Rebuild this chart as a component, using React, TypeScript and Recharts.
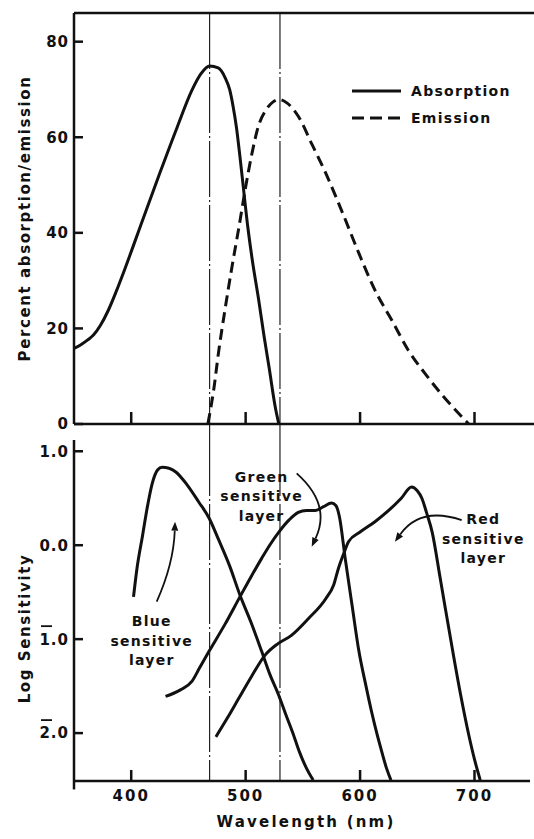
import { LineChart, Line, XAxis, YAxis, ReferenceLine, ReferenceDot, Legend } from 'recharts'

const FONT = '"DejaVu Sans", "Liberation Sans", sans-serif'
const INK = '#111'

// upper panel: percent absorption / emission vs wavelength (nm)
const absorptionWl = [350, 356, 362, 367, 373, 380, 387, 395, 410, 425, 440, 453, 461, 468.5, 476, 482, 486, 489, 492, 495, 498, 502, 506, 511.5, 516, 520.5, 526, 529]
const absorptionPct = [15.8, 16.6, 17.6, 18.6, 20.6, 23.8, 27.8, 32.8, 42.7, 52.5, 62, 69.8, 73.3, 74.9, 74.5, 72.5, 70, 66.5, 62, 56, 49.5, 41, 34, 25.8, 18.5, 11.8, 3.4, 0]
const emissionWl = [467, 472, 476.5, 482, 488, 494, 500, 505, 511, 518, 524, 529, 536, 546, 558, 570, 585, 599, 613, 628, 642, 657, 672, 685, 695]
const emissionPct = [0, 7, 15.3, 24, 32.8, 41, 49.6, 56, 62.2, 65.8, 67.4, 67.9, 67.2, 64.4, 58.5, 52.5, 44, 35.7, 28, 21.6, 15.5, 10.5, 6, 2.5, 0]

// lower panel: log sensitivity of the three layers
const blueWl = [402, 405, 410, 414, 418, 423, 427, 433, 439, 449, 459, 468, 476, 486, 495, 505, 514, 521, 529, 535, 541, 547, 553, 559]
const blueLog = [-0.55, -0.25, 0.11, 0.4, 0.64, 0.8, 0.83, 0.82, 0.78, 0.64, 0.46, 0.29, 0.07, -0.22, -0.53, -0.83, -1.13, -1.37, -1.6, -1.8, -1.99, -2.2, -2.37, -2.5]
const greenWl = [430, 443, 453, 460, 468, 482, 495, 505, 514, 521, 529, 538, 546, 553, 561, 568, 575, 579, 582, 587, 593, 599, 605, 610, 615, 619, 623, 627]
const greenLog = [-1.61, -1.54, -1.45, -1.3, -1.13, -0.84, -0.55, -0.33, -0.14, 0, 0.14, 0.27, 0.35, 0.37, 0.37, 0.41, 0.45, 0.42, 0.3, -0.14, -0.64, -1.13, -1.49, -1.77, -2.02, -2.2, -2.37, -2.5]
const redWl = [474, 484, 494, 505, 517, 528, 540, 555, 570, 577, 581, 586, 590, 600, 613, 625, 636, 645, 650, 654, 658, 663, 670, 681, 688, 695, 700, 705]
const redLog = [-2.04, -1.84, -1.63, -1.4, -1.17, -1.05, -0.96, -0.78, -0.57, -0.42, -0.25, -0.08, 0.04, 0.14, 0.25, 0.37, 0.5, 0.62, 0.58, 0.5, 0.35, 0.14, -0.35, -1.13, -1.6, -2.02, -2.28, -2.5]

const markerWl = [468.5, 530]
const wlTicks = [400, 500, 600, 700]
const pctTicks = [0, 20, 40, 60, 80]
const logTicks = [1, 0, -1, -2]

const legendNames = ['Absorption', 'Emission']
const legendDash = [undefined, '12 6']

const layerNames = ['Blue', 'Green', 'Red']
const labelWl = [418, 514, 707.7]
const labelLog = [-0.81, 0.73, 0.276]
const arrowFrom = [[422.3, -0.6], [544.6, 0.765], [688.8, 0.268]]
const arrowTo = [[438.3, 0.25], [557.7, -0.016], [630.5, 0.037]]
const arrowBend = [4, -14, 13]

const zip = (xs: number[], ys: number[]) => xs.map((w, i) => ({ w, v: ys[i] }))
const absorption = zip(absorptionWl, absorptionPct)
const emission = zip(emissionWl, emissionPct)
const blue = zip(blueWl, blueLog)
const green = zip(greenWl, greenLog)
const red = zip(redWl, redLog)

const axisLine = { stroke: INK, strokeWidth: 2.5 }
const textStyle = { fontFamily: FONT, fontWeight: 'bold' as const, fill: INK }

// y ticks point into the plot; log values below zero get bar notation
const LeftTick = (plain: boolean) => (p: any) => {
  const ax = p.x + 5
  const v = p.payload.value as number
  const neg = !plain && v < 0
  const txt = plain ? String(v) : Math.abs(v).toFixed(1)
  return (
    <g>
      <line x1={ax} y1={p.y} x2={ax + 9} y2={p.y} stroke={INK} strokeWidth={2.5} />
      <text x={p.x} y={p.y} dy="0.36em" textAnchor="end" fontSize={15} letterSpacing={1} {...textStyle}>{txt}</text>
      {neg && <line x1={p.x - 28} y1={p.y - 13} x2={p.x - 17} y2={p.y - 13} stroke={INK} strokeWidth={1.8} />}
    </g>
  )
}

const BottomTick = (withLabel: boolean, len: number) => (p: any) => (
  <g>
    <line x1={p.x} y1={p.y} x2={p.x} y2={p.y - len} stroke={INK} strokeWidth={2.5} />
    {withLabel && (
      <text x={p.x} y={p.y + 20} textAnchor="middle" fontSize={15} letterSpacing={2} {...textStyle}>{p.payload.value}</text>
    )}
  </g>
)

const TopTick = (p: any) => <line x1={p.x} y1={p.y} x2={p.x} y2={p.y + 13} stroke={INK} strokeWidth={2.5} />

const AxisTitle = (text: string, dx: number, dy: number, rotate: boolean, spacing: number) => (p: any) => {
  const vb = p.viewBox
  const x = rotate ? vb.x + dx : vb.x + vb.width / 2 + dx
  const y = rotate ? vb.y + vb.height / 2 + dy : vb.y + dy
  return (
    <text x={x} y={y} textAnchor="middle" dominantBaseline="central" fontSize={15} letterSpacing={spacing}
      transform={rotate ? `rotate(-90, ${x}, ${y})` : undefined} {...textStyle}>
      {text}
    </text>
  )
}

const arrowShape = (bend: number) => (p: any) => {
  const { x1, y1, x2, y2 } = p
  const dx = x2 - x1
  const dy = y2 - y1
  const len = Math.hypot(dx, dy) || 1
  const cx = (x1 + x2) / 2 - (dy / len) * bend * 2
  const cy = (y1 + y2) / 2 + (dx / len) * bend * 2
  const tl = Math.hypot(x2 - cx, y2 - cy) || 1
  const ux = (x2 - cx) / tl
  const uy = (y2 - cy) / tl
  const bx = x2 - ux * 9
  const by = y2 - uy * 9
  return (
    <g>
      <path d={`M${x1},${y1} Q${cx},${cy} ${bx},${by}`} fill="none" stroke={INK} strokeWidth={1.8} />
      <path d={`M${x2},${y2} L${bx - uy * 3.5},${by + ux * 3.5} L${bx + uy * 3.5},${by - ux * 3.5} Z`} fill={INK} />
    </g>
  )
}

const layerLabel = (name: string) => (p: any) => (
  <text x={p.cx} y={p.cy} textAnchor="middle" fontSize={14} letterSpacing={1.3} {...textStyle}>
    {[name, 'sensitive', 'layer'].map((t, i) => (
      <tspan key={t} x={p.cx} dy={i === 0 ? '0.36em' : 19.5}>{t}</tspan>
    ))}
  </text>
)

const LegendBox = () => (
  <div style={{ fontFamily: FONT, fontWeight: 'bold', fontSize: 14, letterSpacing: 1.3, color: INK }}>
    {legendNames.map((name, i) => (
      <div key={name} style={{ display: 'flex', alignItems: 'center', height: 27.5 }}>
        <svg width={49} height={6}>
          <line x1={0} y1={3} x2={49} y2={3} stroke={INK} strokeWidth={3} strokeDasharray={legendDash[i]} />
        </svg>
        <span style={{ marginLeft: 10 }}>{name}</span>
      </div>
    ))}
  </div>
)

const markerStyle = { stroke: '#222', strokeWidth: 1.2, strokeDasharray: '56 3 2 3' }

export default function App() {
  return (
    <div style={{ position: 'absolute', left: 0, top: 0, width: 534, height: 839, background: '#fff' }}>
      <LineChart width={534} height={440} margin={{ top: 12, right: 0, bottom: 15, left: 0 }}>
        <XAxis type="number" dataKey="w" domain={[350, 752]} allowDataOverflow ticks={wlTicks} interval={0}
          height={1} tickSize={0} tickMargin={0} tickLine={false} axisLine={axisLine} tick={BottomTick(false, 12)} />
        <XAxis xAxisId="top" orientation="top" type="number" domain={[350, 752]} allowDataOverflow ticks={wlTicks} interval={0}
          height={1} tickSize={0} tickMargin={0} tickLine={false} axisLine={axisLine} tick={TopTick} />
        <YAxis type="number" domain={[0, 86]} allowDataOverflow ticks={pctTicks} interval={0} width={74}
          tickSize={0} tickMargin={5} tickLine={false} axisLine={axisLine} tick={LeftTick(true)}
          label={{ content: AxisTitle('Percent absorption/emission', 25, 0, true, 1.6) }} />
        {markerWl.map((w) => (
          <ReferenceLine key={w} segment={[{ x: w, y: 86 }, { x: w, y: -4 }]} ifOverflow="visible" {...markerStyle} />
        ))}
        <Line data={absorption} dataKey="v" name="Absorption" type="monotone" stroke={INK} strokeWidth={3} dot={false} isAnimationActive={false} />
        <Line data={emission} dataKey="v" name="Emission" type="monotone" stroke={INK} strokeWidth={3} strokeDasharray="11 6" dot={false} isAnimationActive={false} />
        <Legend layout="vertical" align="center" verticalAlign="middle" content={LegendBox}
          wrapperStyle={{ position: 'absolute', left: 352, top: 77, width: 'auto', height: 'auto' }} />
      </LineChart>
      <LineChart width={534} height={399} margin={{ top: 0, right: 4, bottom: 0, left: 0 }}>
        <XAxis type="number" dataKey="w" domain={[350, 748.5]} allowDataOverflow ticks={wlTicks} interval={0}
          height={58} tickSize={0} tickMargin={0} tickLine={false} axisLine={axisLine} tick={BottomTick(true, 11)}
          label={{ content: AxisTitle('Wavelength (nm)', 4, 41, false, 2.2) }} />
        <YAxis type="number" domain={[-2.51, 1.12]} allowDataOverflow ticks={logTicks} interval={0} width={74}
          tickSize={0} tickMargin={5} tickLine={false} axisLine={axisLine} tick={LeftTick(false)}
          label={{ content: AxisTitle('Log Sensitivity', 25, 18, true, 1.6) }} />
        {markerWl.map((w) => (
          <ReferenceLine key={w} segment={[{ x: w, y: 1.12 }, { x: w, y: -2.51 }]} ifOverflow="visible" {...markerStyle} />
        ))}
        <ReferenceLine segment={[{ x: 350, y: -2.51 }, { x: 350, y: -2.6 }]} ifOverflow="visible" stroke={INK} strokeWidth={2.5} />
        <Line data={blue} dataKey="v" name="Blue sensitive layer" type="monotone" stroke={INK} strokeWidth={3} dot={false} isAnimationActive={false} />
        <Line data={green} dataKey="v" name="Green sensitive layer" type="monotone" stroke={INK} strokeWidth={3} dot={false} isAnimationActive={false} />
        <Line data={red} dataKey="v" name="Red sensitive layer" type="monotone" stroke={INK} strokeWidth={3} dot={false} isAnimationActive={false} />
        {layerNames.map((name, i) => (
          <ReferenceLine key={`a-${name}`} ifOverflow="visible"
            segment={[{ x: arrowFrom[i][0], y: arrowFrom[i][1] }, { x: arrowTo[i][0], y: arrowTo[i][1] }]}
            shape={arrowShape(arrowBend[i])} />
        ))}
        {layerNames.map((name, i) => (
          <ReferenceDot key={`l-${name}`} x={labelWl[i]} y={labelLog[i]} ifOverflow="visible" shape={layerLabel(name)} />
        ))}
      </LineChart>
    </div>
  )
}
